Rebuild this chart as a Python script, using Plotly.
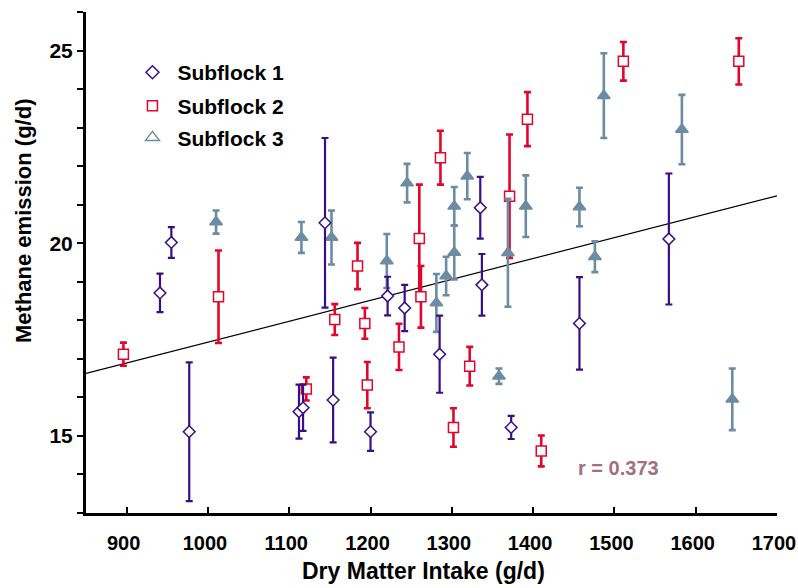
import plotly.graph_objects as go

# ---- data ----
s1_x = [941, 955, 977, 1112, 1117, 1144, 1154, 1200, 1221, 1242, 1285, 1335, 1337, 1373, 1457, 1567]
s1_y = [18.71, 20.02, 15.11, 15.63, 15.73, 20.53, 15.93, 15.11, 18.63, 18.32, 17.12, 20.92, 18.92, 15.22, 17.92, 20.11]
s1_e = [0.5, 0.4, 1.8, 0.7, 0.6, 2.2, 1.1, 0.5, 0.5, 0.6, 1.0, 0.8, 0.8, 0.3, 1.2, 1.7]

s2_x = [896, 1013, 1121, 1156, 1184, 1193, 1196, 1235, 1260, 1262, 1286, 1302, 1322, 1371, 1393, 1410, 1511, 1653]
s2_y = [17.12, 18.61, 16.22, 18.02, 19.41, 17.92, 16.32, 17.31, 20.12, 18.61, 22.22, 15.22, 16.81, 21.22, 23.22, 14.61, 24.72, 24.72]
s2_e = [0.3, 1.2, 0.3, 0.4, 0.6, 0.4, 0.6, 0.6, 1.4, 0.8, 0.7, 0.5, 0.5, 1.6, 0.7, 0.4, 0.5, 0.6]

s3_x = [1010, 1115, 1152, 1220, 1245, 1281, 1293, 1303, 1303, 1319, 1358, 1369, 1391, 1457, 1476, 1487, 1583, 1645]
s3_y = [20.55, 20.15, 20.15, 19.54, 21.56, 18.45, 19.15, 20.96, 19.76, 21.74, 16.55, 19.75, 20.96, 20.94, 19.65, 23.83, 22.95, 15.95]
s3_e = [0.3, 0.4, 0.7, 0.7, 0.5, 0.75, 0.5, 0.5, 0.7, 0.6, 0.2, 1.4, 0.8, 0.5, 0.4, 1.1, 0.9, 0.8]

fit_x = [850, 1700]
fit_y = [16.62, 21.23]

series_names = ["Subflock 1", "Subflock 2", "Subflock 3"]
x_ticks = [900, 1000, 1100, 1200, 1300, 1400, 1500, 1600, 1700]
y_ticks = [15, 20, 25]
r_text = "r = 0.373"

# ---- styles ----
C1 = "#3a0f85"
C2 = "#e3062c"
C3 = "#6b8ca2"
FONT = "Arial, Liberation Sans, Helvetica, sans-serif"

fig = go.Figure()

fig.add_trace(go.Scatter(
    x=fit_x, y=fit_y, mode="lines", line=dict(color="black", width=1.2),
    showlegend=False, hoverinfo="skip"))

def add_series(xs, ys, es, color, symbol, size, ew):
    fig.add_trace(go.Scatter(
        x=xs, y=ys, mode="markers", showlegend=False,
        error_y=dict(type="data", array=es, visible=True, color=color,
                     thickness=ew, width=3.5),
        marker=dict(symbol=symbol, size=size,
                    color=color if symbol == "triangle-up" else "white",
                    line=dict(color=color, width=1.5))))

add_series(s2_x, s2_y, s2_e, C2, "square", 10, 2.6)
add_series(s3_x, s3_y, s3_e, C3, "triangle-up", 11, 2.6)
add_series(s1_x, s1_y, s1_e, C1, "diamond", 9, 2.2)

# legend entries (open symbols, as in the reference legend)
leg_syms = ["diamond-open", "square-open", "triangle-up-open"]
leg_cols = [C1, C2, C3]
leg_sizes = [10, 10, 12]
leg_names = ["legend", "legend2", "legend3"]
for nm, sym, col, sz, lg in zip(series_names, leg_syms, leg_cols, leg_sizes, leg_names):
    fig.add_trace(go.Scatter(
        x=[None], y=[None], mode="markers", name=nm, legend=lg,
        marker=dict(symbol=sym, size=sz, color=col, line=dict(color=col, width=1.5))))

leg_common = dict(xanchor="left", yanchor="middle", bgcolor="rgba(0,0,0,0)",
                  font=dict(family=FONT, size=21, color="black", weight="bold"),
                  itemwidth=40, borderwidth=0)
leg_rows = [0.879, 0.812, 0.749]

fig.update_layout(
    width=798, height=588,
    margin=dict(l=86, r=21, t=12, b=75, autoexpand=False),
    paper_bgcolor="white", plot_bgcolor="white",
    legend=dict(x=0.06, y=leg_rows[0], **leg_common),
    legend2=dict(x=0.06, y=leg_rows[1], **leg_common),
    legend3=dict(x=0.06, y=leg_rows[2], **leg_common),
    xaxis=dict(range=[850, 1700], showline=True, linewidth=3, linecolor="black",
               ticks="inside", ticklen=6, tickwidth=1.5, tickcolor="black",
               tickvals=x_ticks, ticktext=[str(v) for v in x_ticks],
               showgrid=False, zeroline=False, ticklabelstandoff=10,
               ticklabelshift=-3, ticklabeloverflow="allow", automargin=False,
               tickfont=dict(family=FONT, size=20, color="black", weight="bold")),
    yaxis=dict(range=[13, 26], showline=True, linewidth=3, linecolor="black",
               ticks="outside", ticklen=6, tickwidth=1.5, tickcolor="black",
               tickvals=y_ticks, ticktext=[str(v) for v in y_ticks],
               showgrid=False, zeroline=False, automargin=False,
               minor=dict(dtick=1, tick0=13, ticks="outside", ticklen=6,
                          tickwidth=1.5, tickcolor="black"),
               tickfont=dict(family=FONT, size=21, color="black", weight="bold")),
    annotations=[
        dict(text="Dry Matter Intake (g/d)", xref="paper", yref="paper",
             x=(423 - 86) / 691, y=-(571 - 513) / 501, xanchor="center", yanchor="middle",
             showarrow=False, font=dict(family=FONT, size=23, color="black", weight="bold")),
        dict(text="Methane emission (g/d)", xref="paper", yref="paper",
             x=-(86 - 23) / 691, y=(513 - 221) / 501, xanchor="center", yanchor="middle",
             textangle=-90, showarrow=False,
             font=dict(family=FONT, size=22, color="black", weight="bold")),
        dict(text=r_text, xref="x", yref="y", x=1505, y=14.16,
             xanchor="center", yanchor="middle", showarrow=False,
             font=dict(family=FONT, size=20, color="#a16f82", weight="bold")),
    ],
)

fig.write_html(
    "out.html",
    config={"displayModeBar": False},
    post_script="document.documentElement.style.margin='0';"
                "document.body.style.margin='0';"
                "document.body.style.overflow='hidden';",
)
